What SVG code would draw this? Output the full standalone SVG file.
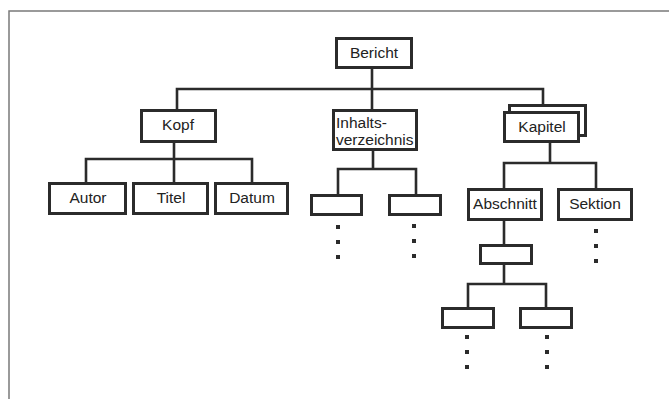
<svg xmlns="http://www.w3.org/2000/svg" width="669" height="399" viewBox="0 0 669 399">
<style>
.frame{fill:none;stroke:#7a7a7a;stroke-width:1.5}
.box{fill:#fff;stroke:#2b2b2b;stroke-width:3}
.ln{fill:none;stroke:#2b2b2b;stroke-width:2.6;stroke-linecap:square;stroke-linejoin:miter}
.t{font-family:"Liberation Sans",Arial,sans-serif;font-size:15.5px;fill:#222;text-anchor:middle}
.tl{font-family:"Liberation Sans",Arial,sans-serif;font-size:15.5px;fill:#222;text-anchor:start}
.dot{fill:#2b2b2b}
</style>
<defs>
<g id="dots"><rect x="-2" y="-2" width="4" height="4"/><rect x="-2" y="13" width="4" height="4"/><rect x="-2" y="28" width="4" height="4"/></g>
</defs>
<rect width="669" height="399" fill="#fff"/>
<path class="frame" d="M9,399 V11 H669"/>
<g id="connectors">
<path class="ln" d="M372,69 V89 M177,109 V89 H543 V104 M372,89 V109"/>
<path class="ln" d="M174,143 V159 M86,182 V159 H252 V182 M174,159 V182"/>
<path class="ln" d="M373,151 V169 M338,194 V169 H416 V194"/>
<path class="ln" d="M550,143 V163 M504,188 V163 H596 V188"/>
<path class="ln" d="M504,221 V244"/>
<path class="ln" d="M504,265 V284 M468,307 V284 H546 V307"/>
</g>
<g id="bericht"><rect class="box" x="336.5" y="38.5" width="75" height="29"/><text class="t" x="374" y="58">Bericht</text></g>
<g id="kopf"><rect class="box" x="141.5" y="110.5" width="74" height="31"/><text class="t" x="178" y="130">Kopf</text></g>
<g id="inhaltsverzeichnis"><rect class="box" x="333.5" y="110.5" width="83" height="39"/><text class="tl" x="336" y="128">Inhalts-</text><text class="tl" x="336" y="145">verzeichnis</text></g>
<g id="kapitel"><rect class="box" x="509.5" y="105.5" width="76" height="30"/><rect class="box" x="504.5" y="112.5" width="74" height="29"/><text class="t" x="542" y="132">Kapitel</text></g>
<g id="autor"><rect class="box" x="49.5" y="183.5" width="76" height="30"/><text class="t" x="88" y="203">Autor</text></g>
<g id="titel"><rect class="box" x="133.5" y="183.5" width="74" height="30"/><text class="t" x="171" y="203">Titel</text></g>
<g id="datum"><rect class="box" x="215.5" y="183.5" width="72" height="30"/><text class="t" x="252" y="203">Datum</text></g>
<g id="inhalt-child-1"><rect class="box" x="311.5" y="195.5" width="50" height="19"/><use href="#dots" class="dot" x="338" y="227"/></g>
<g id="inhalt-child-2"><rect class="box" x="389.5" y="195.5" width="51" height="19"/><use href="#dots" class="dot" x="414" y="226"/></g>
<g id="abschnitt"><rect class="box" x="468.5" y="189.5" width="73" height="30"/><text class="t" x="505" y="209">Abschnitt</text></g>
<g id="sektion"><rect class="box" x="558.5" y="189.5" width="73" height="30"/><text class="t" x="595" y="209">Sektion</text><use href="#dots" class="dot" x="596" y="231"/></g>
<g id="abschnitt-child"><rect class="box" x="480.5" y="245.5" width="51" height="18"/></g>
<g id="leaf-1"><rect class="box" x="442.5" y="308.5" width="51" height="19"/><use href="#dots" class="dot" x="467" y="337"/></g>
<g id="leaf-2"><rect class="box" x="520.5" y="308.5" width="51" height="19"/><use href="#dots" class="dot" x="547" y="337"/></g>
</svg>
